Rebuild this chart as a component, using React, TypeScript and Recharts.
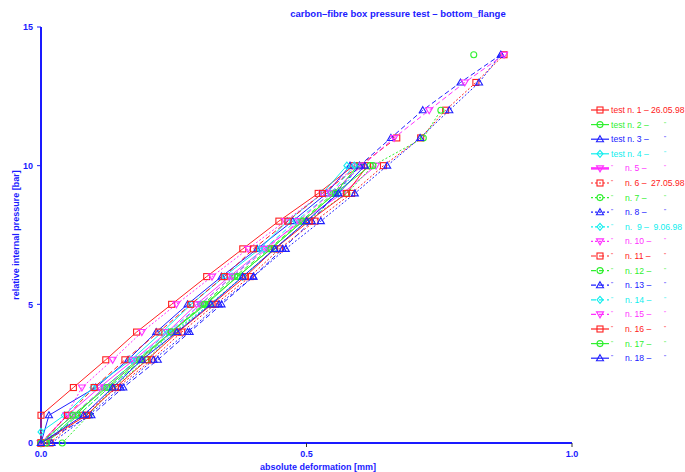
import React from "react";
import { Scatter, ScatterChart, XAxis, YAxis } from "recharts";

const FONT = '"Liberation Sans", Arial, Helvetica, sans-serif';
const AXIS_BLUE = "#1a1aff";

const RED = "#ff2020";
const GREEN = "#30f030";
const BLUE = "#2020ff";
const CYAN = "#10eeee";
const MAGENTA = "#ff30ff";

// pressure steps [bar]
const pressureTo10 = [0, 1, 2, 3, 4, 5, 6, 7, 8, 9, 10];
const pressureTo11 = [0, 1, 2, 3, 4, 5, 6, 7, 8, 9, 10, 11];
const pressureTo12 = [0, 1, 2, 3, 4, 5, 6, 7, 8, 9, 10, 11, 12];
const pressureTo14 = [0, 1, 2, 3, 4, 5, 6, 7, 8, 9, 10, 11, 12, 13, 14];
const pressureLateStart = [0.4, 1, 2, 3, 4, 5, 6, 7, 8, 9, 10];

// deformation readings [mm], one array per test
const test01 = [0, 0, 0.061, 0.122, 0.18, 0.246, 0.312, 0.38, 0.448, 0.522, 0.589];
const test02 = [0.01, 0.065, 0.119, 0.182, 0.245, 0.311, 0.37, 0.433, 0.493, 0.554, 0.596];
const test03 = [0, 0.015, 0.103, 0.164, 0.217, 0.276, 0.34, 0.407, 0.474, 0.538, 0.582];
const test04 = [0, 0.044, 0.098, 0.17, 0.228, 0.283, 0.345, 0.412, 0.464, 0.53, 0.576];
const test05 = [0, 0.05, 0.11, 0.175, 0.238, 0.293, 0.355, 0.42, 0.49, 0.568, 0.631];
const test06 = [0.017, 0.078, 0.144, 0.208, 0.265, 0.328, 0.394, 0.449, 0.516, 0.585, 0.645, 0.715, 0.762, 0.819, 0.872];
const test07 = [0.04, 0.09, 0.135, 0.199, 0.252, 0.318, 0.38, 0.44, 0.5, 0.576, 0.625, 0.72, 0.753];
const test08 = [0.02, 0.09, 0.15, 0.212, 0.276, 0.335, 0.4, 0.461, 0.527, 0.591, 0.652, 0.714, 0.769, 0.825, 0.866];
const test09 = [0, 0.07, 0.128, 0.192, 0.248, 0.318, 0.38, 0.44, 0.5, 0.56, 0.6];
const test10 = [0, 0.048, 0.077, 0.135, 0.19, 0.255, 0.322, 0.39, 0.46, 0.53, 0.595];
const test11 = [0, 0.05, 0.1, 0.158, 0.222, 0.282, 0.345, 0.4, 0.465, 0.53, 0.6, 0.67];
const test12 = [0.01, 0.07, 0.128, 0.19, 0.245, 0.305, 0.365, 0.43, 0.49, 0.55, 0.6];
const test13 = [0, 0.095, 0.155, 0.22, 0.28, 0.34, 0.4, 0.455, 0.51, 0.555, 0.6, 0.659, 0.719, 0.79, 0.866];
const test14 = [0, 0.06, 0.12, 0.18, 0.24, 0.3, 0.36, 0.42, 0.48, 0.545, 0.59];
const test15 = [0, 0.06, 0.12, 0.185, 0.245, 0.3, 0.36, 0.425, 0.485, 0.545, 0.605, 0.665, 0.731, 0.798, 0.872];
const test16 = [0, 0.086, 0.14, 0.2, 0.258, 0.322, 0.385, 0.44, 0.505, 0.575, 0.615];
const test17 = [0, 0.06, 0.124, 0.186, 0.245, 0.308, 0.37, 0.433, 0.493, 0.554, 0.62];
const test18 = [0, 0.08, 0.135, 0.19, 0.256, 0.32, 0.38, 0.44, 0.5, 0.56, 0.61];

// single stray reading at 14 bar
const strayPressure = [14];
const strayDeformation = [0.815];

type MarkerKind = "square" | "circle" | "triangle" | "diamond" | "triangleDown";

interface SeriesDef {
  id: string;
  color: string;
  dash?: string;
  marker: MarkerKind;
  pressure: number[];
  deformation: number[];
  prefix: string;
  number: string;
  date?: string;
}

const DOTTED = "2 2";
const DASHED = "5 3";

const SERIES: SeriesDef[] = [
  { id: "t1", color: RED, marker: "square", pressure: pressureTo10, deformation: test01, prefix: "test", number: "1", date: "26.05.98" },
  { id: "t2", color: GREEN, marker: "circle", pressure: pressureTo10, deformation: test02, prefix: "test", number: "2" },
  { id: "t3", color: BLUE, marker: "triangle", pressure: pressureTo10, deformation: test03, prefix: "test", number: "3" },
  { id: "t4", color: CYAN, marker: "diamond", pressure: pressureLateStart, deformation: test04, prefix: "test", number: "4" },
  { id: "t5", color: MAGENTA, marker: "triangleDown", pressure: pressureTo10, deformation: test05, prefix: "\"", number: "5" },
  { id: "t6", color: RED, dash: DOTTED, marker: "square", pressure: pressureTo14, deformation: test06, prefix: "\"", number: "6", date: "27.05.98" },
  { id: "t7", color: GREEN, dash: DOTTED, marker: "circle", pressure: pressureTo12, deformation: test07, prefix: "\"", number: "7" },
  { id: "t8", color: BLUE, dash: DOTTED, marker: "triangle", pressure: pressureTo14, deformation: test08, prefix: "\"", number: "8" },
  { id: "t9", color: CYAN, dash: DOTTED, marker: "diamond", pressure: pressureTo10, deformation: test09, prefix: "\"", number: " 9", date: " 9.06.98" },
  { id: "t10", color: MAGENTA, dash: DOTTED, marker: "triangleDown", pressure: pressureTo10, deformation: test10, prefix: "\"", number: "10" },
  { id: "t11", color: RED, dash: DASHED, marker: "square", pressure: pressureTo11, deformation: test11, prefix: "\"", number: "11" },
  { id: "t12", color: GREEN, dash: DASHED, marker: "circle", pressure: pressureTo10, deformation: test12, prefix: "\"", number: "12" },
  { id: "t13", color: BLUE, dash: DASHED, marker: "triangle", pressure: pressureTo14, deformation: test13, prefix: "\"", number: "13" },
  { id: "t14", color: CYAN, dash: DASHED, marker: "diamond", pressure: pressureTo10, deformation: test14, prefix: "\"", number: "14" },
  { id: "t15", color: MAGENTA, dash: DASHED, marker: "triangleDown", pressure: pressureTo14, deformation: test15, prefix: "\"", number: "15" },
  { id: "t16", color: RED, marker: "square", pressure: pressureTo10, deformation: test16, prefix: "\"", number: "16" },
  { id: "t17", color: GREEN, marker: "circle", pressure: pressureTo10, deformation: test17, prefix: "\"", number: "17" },
  { id: "t18", color: BLUE, marker: "triangle", pressure: pressureTo10, deformation: test18, prefix: "\"", number: "18" },
];

function toPoints(pressure: number[], deformation: number[]) {
  return pressure.map((p, i) => ({ x: deformation[i], p }));
}

function Marker({ kind, cx, cy, color }: { kind: MarkerKind; cx: number; cy: number; color: string }) {
  const common = { fill: "none", stroke: color, strokeWidth: 1.1 };
  switch (kind) {
    case "square":
      return <rect x={cx - 3} y={cy - 3} width={6} height={6} {...common} />;
    case "circle":
      return <circle cx={cx} cy={cy} r={3} {...common} />;
    case "triangle":
      return <polygon points={`${cx},${cy - 3.5} ${cx + 3.5},${cy + 2.5} ${cx - 3.5},${cy + 2.5}`} {...common} />;
    case "triangleDown":
      return <polygon points={`${cx},${cy + 3.5} ${cx + 3.5},${cy - 2.5} ${cx - 3.5},${cy - 2.5}`} {...common} />;
    default:
      return <polygon points={`${cx},${cy - 3.5} ${cx + 3},${cy} ${cx},${cy + 3.5} ${cx - 3},${cy}`} {...common} />;
  }
}

function Legend() {
  return (
    <g fontFamily={FONT} fontSize={8.6}>
      {SERIES.map((s, i) => {
        const y = 110 + i * 14.6;
        const isTest = s.prefix === "test";
        return (
          <g key={s.id} fill={s.color}>
            <line x1={591} x2={609} y1={y} y2={y} stroke={s.color} strokeWidth={s.id === "t5" ? 2.5 : 1.2} strokeDasharray={s.dash} />
            <Marker kind={s.marker} cx={600} cy={y} color={s.color} />
            {isTest ? (
              <text x={611} y={y + 3}>{`test n. ${s.number} –`}</text>
            ) : (
              <>
                <text x={611} y={y + 1} fontSize={6}>"</text>
                <text x={625} y={y + 3} style={{ whiteSpace: "pre" }}>{`n. ${s.number} –`}</text>
              </>
            )}
            {s.date ? (
              <text x={651} y={y + 3} style={{ whiteSpace: "pre" }}>{s.date}</text>
            ) : (
              <text x={664} y={y + 1} fontSize={6}>"</text>
            )}
          </g>
        );
      })}
    </g>
  );
}

const axisTick = { fill: AXIS_BLUE, fontSize: 9, fontWeight: 700, fontFamily: FONT };

export default function App() {
  return (
    <div style={{ position: "absolute", left: 0, top: 0, width: 685, height: 472, background: "#fff" }}>
      <ScatterChart width={685} height={472} margin={{ top: 27, right: 113, bottom: 9, left: 11 }}>
        <XAxis
          type="number"
          dataKey="x"
          domain={[0, 1]}
          ticks={[0, 0.5, 1]}
          tickFormatter={(v) => Number(v).toFixed(1)}
          height={20}
          axisLine={{ stroke: AXIS_BLUE, strokeWidth: 2 }}
          tickLine={{ stroke: "#333" }}
          tickSize={4}
          tickMargin={4}
          tick={axisTick}
        />
        <XAxis xAxisId="top" orientation="top" type="number" domain={[0, 1]} height={0} tick={false} tickLine={false} axisLine={{ stroke: AXIS_BLUE, strokeWidth: 2 }} />
        <YAxis
          type="number"
          dataKey="p"
          domain={[0, 15]}
          ticks={[0, 5, 10, 15]}
          width={30}
          axisLine={{ stroke: AXIS_BLUE, strokeWidth: 2 }}
          tickLine={{ stroke: AXIS_BLUE }}
          tickSize={4}
          tickMargin={4}
          tick={axisTick}
        />
        <YAxis yAxisId="right" orientation="right" type="number" domain={[0, 15]} width={0} tick={false} tickLine={false} axisLine={{ stroke: AXIS_BLUE, strokeWidth: 2 }} />
        {SERIES.map((s) => (
          <Scatter
            key={s.id}
            name={s.id}
            data={toPoints(s.pressure, s.deformation)}
            fill={s.color}
            line={{ stroke: s.color, strokeWidth: 1, strokeDasharray: s.dash }}
            lineType="joint"
            shape={(props: any) => <Marker kind={s.marker} cx={props.cx} cy={props.cy} color={s.color} />}
            isAnimationActive={false}
          />
        ))}
        <Scatter
          name="stray"
          data={toPoints(strayPressure, strayDeformation)}
          fill={GREEN}
          shape={(props: any) => <Marker kind="circle" cx={props.cx} cy={props.cy} color={GREEN} />}
          isAnimationActive={false}
        />
      </ScatterChart>
      <svg width={685} height={472} style={{ position: "absolute", left: 0, top: 0, pointerEvents: "none" }}>
        <text x={398} y={17} textAnchor="middle" fill={AXIS_BLUE} fontFamily={FONT} fontWeight={700} fontSize={9.5}>
          carbon–fibre box pressure test – bottom_flange
        </text>
        <text x={318} y={469.5} textAnchor="middle" fill={AXIS_BLUE} fontFamily={FONT} fontWeight={700} fontSize={9}>
          absolute deformation [mm]
        </text>
        <text
          x={0}
          y={0}
          transform="translate(19 235) rotate(-90)"
          textAnchor="middle"
          fill={AXIS_BLUE}
          fontFamily={FONT}
          fontWeight={700}
          fontSize={9}
        >
          relative internal pressure [bar]
        </text>
        <Legend />
      </svg>
    </div>
  );
}
